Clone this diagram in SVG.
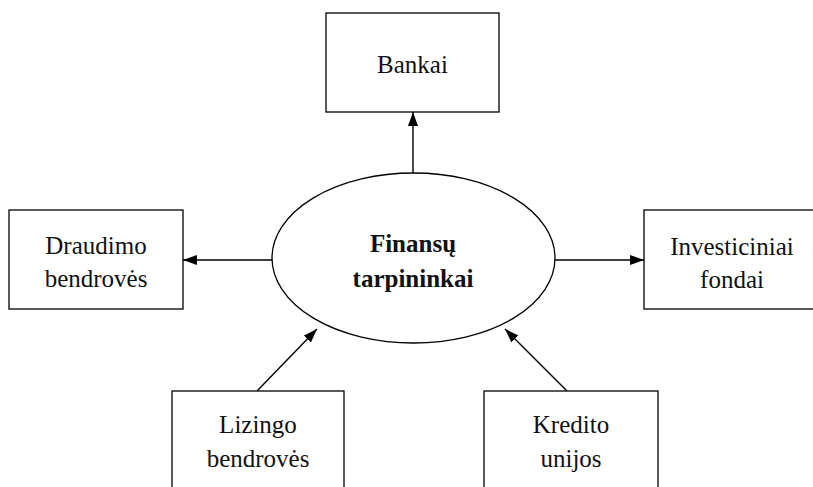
<svg xmlns="http://www.w3.org/2000/svg" width="813" height="487" viewBox="0 0 813 487">
<style>
.box{fill:#fff;stroke:#000;stroke-width:1.3}
.t{font-family:'Liberation Serif','DejaVu Serif',serif;font-size:25px;fill:#111;text-anchor:middle}
.b{font-weight:bold}
.c{stroke:#000;stroke-width:1.4;fill:none;marker-end:url(#ah)}
</style>
<defs>
<marker id="ah" viewBox="0 0 14 10" refX="14" refY="5" markerWidth="14" markerHeight="10" markerUnits="userSpaceOnUse" orient="auto">
<path d="M0,0 L14,5 L0,10 Z" fill="#000"/>
</marker>
</defs>
<rect width="813" height="487" fill="#fff"/>
<g id="connectors">
<line class="c" x1="413" y1="173" x2="413" y2="112"/>
<line class="c" x1="272" y1="260" x2="183" y2="260"/>
<line class="c" x1="555" y1="260" x2="644" y2="260"/>
<line class="c" x1="257" y1="391" x2="317" y2="329"/>
<line class="c" x1="567" y1="391" x2="505" y2="329"/>
</g>
<g id="finansu">
<ellipse class="box" cx="413.5" cy="258" rx="141.5" ry="85"/>
<text class="t b" x="413" y="252" font-family="Liberation Serif">Finansų</text>
<text class="t b" x="413" y="287" font-family="Liberation Serif">tarpininkai</text>
</g>
<g id="bankai">
<rect class="box" x="326" y="13" width="173" height="99"/>
<text class="t" x="412.5" y="73" font-family="Liberation Serif">Bankai</text>
</g>
<g id="draudimo">
<rect class="box" x="9" y="210" width="174" height="99"/>
<text class="t" x="96" y="254" font-family="Liberation Serif">Draudimo</text>
<text class="t" x="96" y="287" font-family="Liberation Serif">bendrovės</text>
</g>
<g id="investiciniai">
<rect class="box" x="644" y="210" width="176" height="99"/>
<text class="t" x="732" y="255" font-family="Liberation Serif">Investiciniai</text>
<text class="t" x="732" y="288" font-family="Liberation Serif">fondai</text>
</g>
<g id="lizingo">
<rect class="box" x="172" y="391" width="172" height="110"/>
<text class="t" x="258" y="433" font-family="Liberation Serif">Lizingo</text>
<text class="t" x="258" y="467" font-family="Liberation Serif">bendrovės</text>
</g>
<g id="kredito">
<rect class="box" x="484" y="391" width="174" height="110"/>
<text class="t" x="571" y="433" font-family="Liberation Serif">Kredito</text>
<text class="t" x="571" y="467" font-family="Liberation Serif">unijos</text>
</g>
</svg>
